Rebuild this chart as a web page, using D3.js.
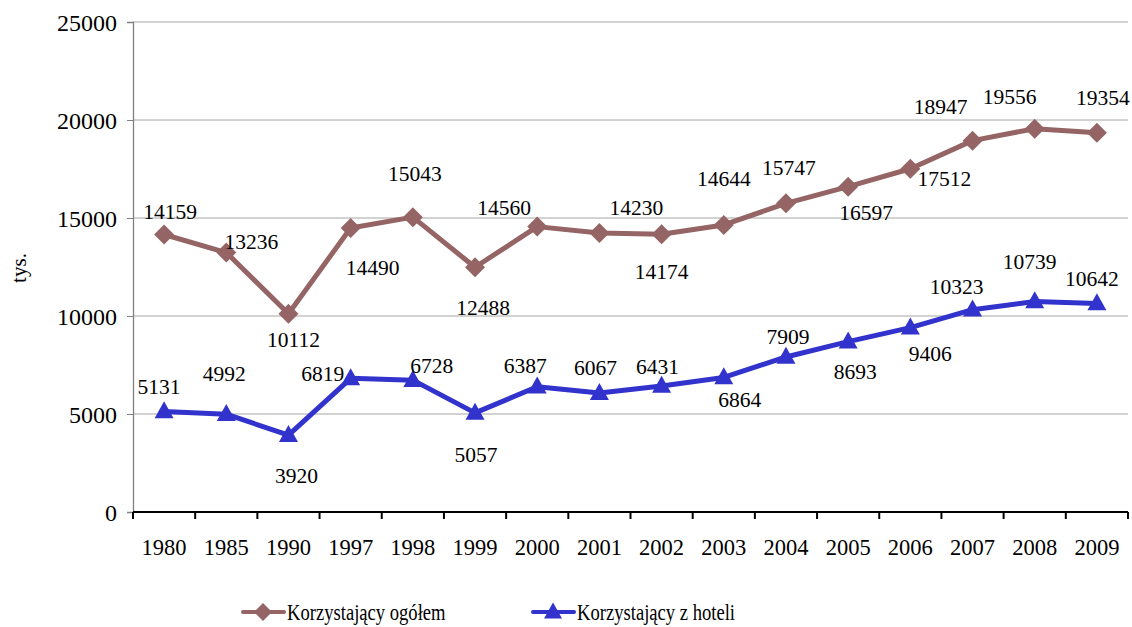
<!DOCTYPE html>
<html>
<head>
<meta charset="utf-8">
<script src="https://cdn.jsdelivr.net/npm/d3@7"></script>
<style>
  body { margin: 0; background: #fff; }
</style>
</head>
<body>
<svg id="chart" width="1132" height="627"></svg>
<script>
// data
var years = ["1980","1985","1990","1997","1998","1999","2000","2001","2002","2003","2004","2005","2006","2007","2008","2009"];
var ogolem = [14159,13236,10112,14490,15043,12488,14560,14230,14174,14644,15747,16597,17512,18947,19556,19354];
var hotele = [5131,4992,3920,6819,6728,5057,6387,6067,6431,6864,7909,8693,9406,10323,10739,10642];
var yTicks = [0,5000,10000,15000,20000,25000];
var seriesNames = ["Korzystający ogółem", "Korzystający z hoteli"];

// where each value label sits relative to its point (px), like in the original
var ogolemLabelOff = [[6,-23],[25,-11],[5,26],[22,39],[2,-44],[8,40],[-33,-19],[37,-26],[0,37],[0,-47],[3,-36],[18,26],[34,10],[-32,-34],[-25,-32],[6,-35]];
var hoteleLabelOff = [[-5,-25],[-2,-41],[8,40],[-28,-5],[19,-15],[1,42],[-12,-21],[-4,-26],[-4,-19],[16,22],[2,-21],[7,30],[20,26],[-16,-23],[-5,-40],[-5,-25]];

var brown = "#956464", blue = "#3232cc";
var serif = "'Liberation Serif', serif";

var plotL = 133, plotR = 1128, plotT = 22, plotB = 512;

var svg = d3.select("#chart");

var x = d3.scaleBand().domain(years).range([plotL, plotR]);
var y = d3.scaleLinear().domain([0, 25000]).range([plotB, plotT]);
var cx = function(d, i) { return x(years[i]) + x.bandwidth() / 2; };

// gridlines
svg.append("g").selectAll("line")
  .data(yTicks.filter(function(t){ return t > 0; }))
  .enter().append("line")
  .attr("x1", plotL).attr("x2", plotR)
  .attr("y1", function(d){ return y(d); }).attr("y2", function(d){ return y(d); })
  .attr("stroke", "#a6a6a6").attr("stroke-width", 1);

// y axis
var yAxis = d3.axisLeft(y).tickValues(yTicks).tickSize(6).tickPadding(10).tickFormat(d3.format("d"));
var gy = svg.append("g").attr("transform", "translate(" + plotL + ",0)").call(yAxis);
gy.select(".domain").attr("stroke", "#808080").attr("stroke-width", 1.3);
gy.selectAll(".tick line").attr("stroke", "#808080");
gy.selectAll(".tick text").style("font-family", serif).attr("font-size", 24).attr("dy", "0.34em");

// x axis: labels under the category centres, ticks on the boundaries
var gx = svg.append("g").attr("transform", "translate(0," + plotB + ")")
  .call(d3.axisBottom(x).tickSize(0).tickPadding(27));
gx.select(".domain").remove();
gx.selectAll(".tick text").style("font-family", serif).attr("font-size", 22.5);
svg.append("line").attr("x1", plotL).attr("x2", plotR).attr("y1", plotB).attr("y2", plotB)
  .attr("stroke", "#000").attr("stroke-width", 2);
svg.append("g").selectAll("line")
  .data(d3.range(years.length + 1))
  .enter().append("line")
  .attr("x1", function(i){ return plotL + i * x.step(); })
  .attr("x2", function(i){ return plotL + i * x.step(); })
  .attr("y1", plotB).attr("y2", plotB + 7)
  .attr("stroke", "#000").attr("stroke-width", 2);

// axis title
svg.append("text")
  .attr("transform", "translate(26,268) rotate(-90)")
  .attr("text-anchor", "middle")
  .style("font-family", serif)
  .attr("font-size", 21)
  .text("tys.");

function diamond(r) { return "M0," + (-r) + "L" + r + ",0L0," + r + "L" + (-r) + ",0Z"; }
function triangle(w, h) { return "M0," + (-h * 0.6) + "L" + (w / 2) + "," + (h * 0.4) + "L" + (-w / 2) + "," + (h * 0.4) + "Z"; }

function drawSeries(vals, color, marker, offs) {
  var line = d3.line().x(cx).y(function(d){ return y(d); });
  svg.append("path").datum(vals)
    .attr("d", line).attr("fill", "none")
    .attr("stroke", color).attr("stroke-width", 5).attr("stroke-linejoin", "round");
  svg.append("g").selectAll("path")
    .data(vals).enter().append("path")
    .attr("d", marker)
    .attr("transform", function(d, i){ return "translate(" + cx(d, i) + "," + y(d) + ")"; })
    .attr("fill", color);
  svg.append("g").selectAll("text")
    .data(vals).enter().append("text")
    .attr("x", function(d, i){ return cx(d, i) + offs[i][0]; })
    .attr("y", function(d, i){ return y(d) + offs[i][1]; })
    .attr("dy", "0.35em")
    .attr("text-anchor", "middle")
    .style("font-family", serif)
    .attr("font-size", 21.5)
    .text(function(d){ return d; });
}

drawSeries(ogolem, brown, diamond(10), ogolemLabelOff);
drawSeries(hotele, blue, triangle(19, 17), hoteleLabelOff);

// legend (text is condensed in the original)
var legend = [
  {name: seriesNames[0], color: brown, marker: diamond(9), x: 243},
  {name: seriesNames[1], color: blue, marker: triangle(18, 16), x: 533}
];
var lg = svg.append("g").selectAll("g").data(legend).enter().append("g")
  .attr("transform", function(d){ return "translate(" + d.x + ",612)"; });
lg.append("line").attr("x1", 0).attr("x2", 41).attr("y1", 0).attr("y2", 0)
  .attr("stroke", function(d){ return d.color; }).attr("stroke-width", 4).attr("stroke-linecap", "round");
lg.append("path").attr("d", function(d){ return d.marker; })
  .attr("transform", "translate(20,0)").attr("fill", function(d){ return d.color; });
lg.append("text")
  .attr("transform", "translate(44,0) scale(0.775,1)")
  .attr("dy", "0.35em")
  .style("font-family", serif)
  .attr("font-size", 24)
  .text(function(d){ return d.name; });
</script>
</body>
</html>
